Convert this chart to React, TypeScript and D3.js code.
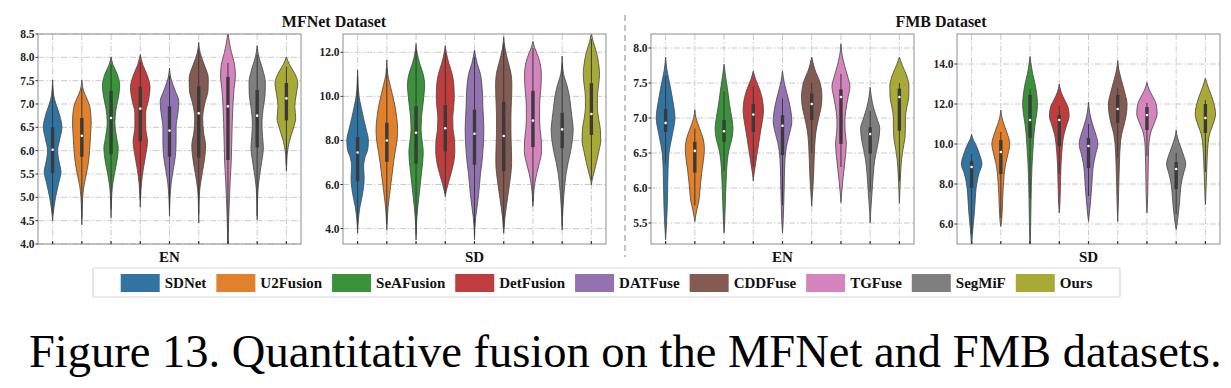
import React from "react";
import * as d3 from "d3";

type Knot = [number, number];

const methods: string[] = ["SDNet", "U2Fusion", "SeAFusion", "DetFusion", "DATFuse", "CDDFuse", "TGFuse", "SegMiF", "Ours"];
const palette: string[] = ["#3274a1", "#e1812c", "#3a923a", "#c03d3e", "#9372b2", "#845b53", "#d684bd", "#7f7f7f", "#a9aa35"];

const datasetTitles: string[] = ["MFNet Dataset", "FMB Dataset"];
const metricLabels: string[] = ["EN", "SD", "EN", "SD"];
const caption = "Figure 13. Quantitative fusion on the MFNet and FMB datasets.";

const yDomains: [number, number][] = [[4.0, 8.5], [3.3, 12.83], [5.2, 8.2], [5.0, 15.5]];
const yTicks: number[][] = [
  [4.0, 4.5, 5.0, 5.5, 6.0, 6.5, 7.0, 7.5, 8.0, 8.5],
  [4.0, 6.0, 8.0, 10.0, 12.0],
  [5.5, 6.0, 6.5, 7.0, 7.5, 8.0],
  [6.0, 8.0, 10.0, 12.0, 14.0],
];

// density profiles: [value, relative half width]
const enMfnetDensity: Knot[][] = [
  [[7.52, 0], [7.2, 0.08], [7.0, 0.28], [6.75, 0.6], [6.5, 0.78], [6.25, 0.6], [6.0, 0.42], [5.75, 0.55], [5.55, 0.7], [5.3, 0.5], [5.0, 0.25], [4.8, 0.12], [4.5, 0]],
  [[7.52, 0], [7.3, 0.12], [7.1, 0.45], [6.9, 0.7], [6.6, 0.78], [6.3, 0.72], [6.0, 0.65], [5.75, 0.55], [5.5, 0.38], [5.25, 0.18], [5.0, 0.07], [4.7, 0.03], [4.41, 0]],
  [[8.01, 0], [7.85, 0.15], [7.65, 0.5], [7.4, 0.72], [7.15, 0.62], [6.9, 0.42], [6.6, 0.32], [6.3, 0.45], [6.05, 0.6], [5.8, 0.5], [5.5, 0.28], [5.2, 0.1], [4.9, 0.03], [4.56, 0]],
  [[8.06, 0], [7.85, 0.2], [7.6, 0.6], [7.35, 0.82], [7.1, 0.7], [6.8, 0.45], [6.5, 0.45], [6.2, 0.6], [5.9, 0.45], [5.6, 0.25], [5.3, 0.1], [5.0, 0.03], [4.79, 0]],
  [[7.77, 0], [7.55, 0.12], [7.3, 0.45], [7.05, 0.78], [6.8, 0.7], [6.5, 0.55], [6.2, 0.55], [5.9, 0.5], [5.6, 0.32], [5.3, 0.14], [5.0, 0.05], [4.59, 0]],
  [[8.32, 0], [8.1, 0.12], [7.85, 0.45], [7.55, 0.8], [7.3, 0.78], [7.0, 0.5], [6.7, 0.33], [6.4, 0.4], [6.1, 0.58], [5.85, 0.5], [5.5, 0.28], [5.2, 0.1], [4.9, 0.03], [4.45, 0]],
  [[8.55, 0], [8.35, 0.1], [8.1, 0.3], [7.85, 0.55], [7.6, 0.62], [7.3, 0.5], [7.0, 0.42], [6.6, 0.36], [6.2, 0.32], [5.8, 0.28], [5.4, 0.2], [5.0, 0.13], [4.6, 0.07], [4.2, 0.03], [3.9, 0]],
  [[8.25, 0], [8.0, 0.15], [7.75, 0.45], [7.45, 0.68], [7.2, 0.66], [6.9, 0.5], [6.6, 0.4], [6.3, 0.45], [6.05, 0.52], [5.8, 0.4], [5.5, 0.22], [5.2, 0.08], [4.9, 0.03], [4.52, 0]],
  [[8.01, 0], [7.85, 0.25], [7.65, 0.7], [7.45, 0.95], [7.2, 0.82], [6.95, 0.7], [6.7, 0.78], [6.45, 0.55], [6.2, 0.25], [6.0, 0.1], [5.8, 0.04], [5.56, 0]],
];

const sdMfnetDensity: Knot[][] = [
  [[11.2, 0], [10.6, 0.04], [10.0, 0.12], [9.5, 0.3], [9.0, 0.5], [8.5, 0.72], [8.0, 0.9], [7.6, 0.85], [7.2, 0.6], [6.8, 0.5], [6.3, 0.55], [5.9, 0.5], [5.4, 0.35], [5.0, 0.2], [4.5, 0.08], [4.1, 0.02], [3.79, 0]],
  [[11.65, 0], [11.0, 0.08], [10.5, 0.28], [10.0, 0.5], [9.5, 0.7], [9.0, 0.83], [8.5, 0.9], [8.0, 0.85], [7.5, 0.7], [7.0, 0.56], [6.5, 0.45], [6.0, 0.33], [5.5, 0.22], [5.0, 0.11], [4.5, 0.05], [3.94, 0]],
  [[12.4, 0], [12.0, 0.08], [11.5, 0.3], [11.0, 0.6], [10.5, 0.72], [10.0, 0.65], [9.5, 0.55], [9.0, 0.45], [8.5, 0.42], [8.0, 0.5], [7.5, 0.6], [7.0, 0.55], [6.5, 0.45], [6.0, 0.35], [5.5, 0.25], [5.0, 0.15], [4.5, 0.07], [4.0, 0.02], [3.48, 0]],
  [[12.3, 0], [12.0, 0.08], [11.5, 0.3], [11.0, 0.58], [10.5, 0.72], [10.0, 0.75], [9.5, 0.7], [9.0, 0.62], [8.5, 0.65], [8.0, 0.78], [7.5, 0.8], [7.0, 0.7], [6.5, 0.48], [6.0, 0.22], [5.7, 0.08], [5.45, 0]],
  [[12.1, 0], [11.5, 0.22], [11.0, 0.5], [10.5, 0.62], [10.0, 0.68], [9.5, 0.7], [9.0, 0.75], [8.5, 0.78], [8.0, 0.76], [7.5, 0.7], [7.0, 0.62], [6.5, 0.5], [6.0, 0.42], [5.5, 0.33], [5.0, 0.22], [4.5, 0.1], [4.0, 0.03], [3.48, 0]],
  [[12.7, 0], [12.2, 0.1], [11.5, 0.4], [11.0, 0.62], [10.5, 0.68], [10.0, 0.66], [9.5, 0.62], [9.0, 0.6], [8.5, 0.6], [8.0, 0.62], [7.5, 0.65], [7.0, 0.66], [6.5, 0.6], [6.0, 0.48], [5.5, 0.35], [5.0, 0.22], [4.5, 0.1], [4.0, 0.03], [3.79, 0]],
  [[12.5, 0], [12.2, 0.15], [12.0, 0.3], [11.5, 0.6], [11.0, 0.7], [10.5, 0.68], [10.0, 0.6], [9.5, 0.55], [9.0, 0.55], [8.5, 0.6], [8.0, 0.7], [7.5, 0.72], [7.0, 0.55], [6.5, 0.32], [6.0, 0.14], [5.5, 0.05], [5.0, 0]],
  [[11.83, 0], [11.3, 0.05], [11.0, 0.12], [10.5, 0.4], [10.0, 0.6], [9.5, 0.72], [9.0, 0.83], [8.5, 0.92], [8.0, 0.85], [7.5, 0.7], [7.0, 0.5], [6.5, 0.33], [6.0, 0.22], [5.5, 0.14], [5.0, 0.08], [4.5, 0.03], [3.94, 0]],
  [[12.86, 0], [12.5, 0.14], [12.0, 0.42], [11.5, 0.6], [11.0, 0.68], [10.5, 0.6], [10.0, 0.5], [9.5, 0.5], [9.0, 0.6], [8.5, 0.75], [8.0, 0.78], [7.5, 0.62], [7.0, 0.42], [6.5, 0.2], [6.2, 0.06], [5.98, 0]],
];

const enFmbDensity: Knot[][] = [
  [[7.87, 0], [7.7, 0.1], [7.5, 0.33], [7.25, 0.6], [7.0, 0.78], [6.75, 0.55], [6.5, 0.28], [6.25, 0.2], [6.0, 0.17], [5.75, 0.14], [5.5, 0.08], [5.26, 0]],
  [[7.12, 0], [7.0, 0.1], [6.85, 0.4], [6.7, 0.7], [6.55, 0.8], [6.4, 0.72], [6.25, 0.6], [6.1, 0.5], [5.95, 0.42], [5.8, 0.32], [5.7, 0.18], [5.6, 0.07], [5.52, 0]],
  [[7.77, 0], [7.6, 0.12], [7.4, 0.3], [7.2, 0.45], [7.0, 0.65], [6.85, 0.75], [6.7, 0.65], [6.55, 0.42], [6.4, 0.28], [6.2, 0.2], [6.0, 0.15], [5.75, 0.1], [5.5, 0.05], [5.36, 0]],
  [[7.67, 0], [7.55, 0.2], [7.4, 0.55], [7.25, 0.78], [7.1, 0.85], [6.95, 0.75], [6.8, 0.6], [6.6, 0.42], [6.45, 0.28], [6.3, 0.15], [6.2, 0.06], [6.1, 0]],
  [[7.67, 0], [7.5, 0.15], [7.3, 0.45], [7.1, 0.7], [6.95, 0.78], [6.8, 0.62], [6.65, 0.4], [6.5, 0.25], [6.3, 0.18], [6.0, 0.14], [5.75, 0.1], [5.5, 0.05], [5.36, 0]],
  [[7.87, 0], [7.7, 0.25], [7.5, 0.7], [7.3, 0.85], [7.15, 0.78], [7.0, 0.58], [6.8, 0.35], [6.6, 0.25], [6.4, 0.2], [6.2, 0.16], [6.0, 0.1], [5.85, 0.04], [5.74, 0]],
  [[8.06, 0], [7.9, 0.1], [7.75, 0.3], [7.6, 0.55], [7.45, 0.75], [7.3, 0.6], [7.1, 0.4], [6.95, 0.33], [6.8, 0.35], [6.65, 0.45], [6.5, 0.4], [6.3, 0.28], [6.15, 0.18], [6.0, 0.1], [5.9, 0.04], [5.79, 0]],
  [[7.44, 0], [7.3, 0.1], [7.15, 0.28], [7.0, 0.55], [6.85, 0.8], [6.7, 0.72], [6.55, 0.55], [6.4, 0.38], [6.2, 0.26], [6.0, 0.18], [5.8, 0.1], [5.65, 0.04], [5.5, 0]],
  [[7.87, 0], [7.75, 0.25], [7.6, 0.62], [7.45, 0.8], [7.3, 0.78], [7.15, 0.62], [7.0, 0.5], [6.85, 0.5], [6.7, 0.45], [6.55, 0.3], [6.4, 0.18], [6.2, 0.1], [6.0, 0.05], [5.78, 0]],
];

const sdFmbDensity: Knot[][] = [
  [[10.49, 0], [10.2, 0.15], [10.0, 0.33], [9.5, 0.65], [9.0, 0.86], [8.5, 0.6], [8.0, 0.42], [7.5, 0.33], [7.0, 0.28], [6.5, 0.22], [6.0, 0.14], [5.5, 0.07], [5.0, 0.02], [4.8, 0]],
  [[11.7, 0], [11.3, 0.1], [11.0, 0.25], [10.5, 0.55], [10.0, 0.75], [9.5, 0.6], [9.0, 0.4], [8.5, 0.28], [8.0, 0.22], [7.5, 0.17], [7.0, 0.14], [6.5, 0.1], [6.0, 0.04], [5.88, 0]],
  [[14.38, 0], [14.0, 0.08], [13.5, 0.22], [13.0, 0.42], [12.5, 0.55], [12.0, 0.62], [11.5, 0.55], [11.0, 0.42], [10.5, 0.33], [10.0, 0.27], [9.0, 0.17], [8.0, 0.11], [7.0, 0.08], [6.0, 0.05], [5.0, 0.02], [4.8, 0]],
  [[13.0, 0], [12.6, 0.15], [12.2, 0.45], [11.8, 0.75], [11.4, 0.82], [11.0, 0.65], [10.5, 0.4], [10.0, 0.27], [9.5, 0.2], [9.0, 0.15], [8.0, 0.1], [7.0, 0.05], [6.55, 0]],
  [[12.1, 0], [11.5, 0.12], [11.0, 0.33], [10.5, 0.6], [10.0, 0.78], [9.5, 0.6], [9.0, 0.42], [8.5, 0.33], [8.0, 0.28], [7.5, 0.22], [7.0, 0.15], [6.5, 0.07], [6.13, 0]],
  [[14.17, 0], [13.7, 0.1], [13.0, 0.4], [12.5, 0.62], [12.0, 0.78], [11.5, 0.72], [11.0, 0.55], [10.5, 0.33], [10.0, 0.22], [9.0, 0.14], [8.0, 0.09], [7.0, 0.05], [6.13, 0]],
  [[13.08, 0], [12.7, 0.2], [12.3, 0.55], [11.9, 0.8], [11.5, 0.85], [11.1, 0.65], [10.7, 0.38], [10.3, 0.22], [10.0, 0.16], [9.5, 0.13], [9.0, 0.11], [8.0, 0.08], [7.0, 0.04], [6.55, 0]],
  [[10.68, 0], [10.3, 0.12], [10.0, 0.28], [9.5, 0.58], [9.0, 0.8], [8.5, 0.6], [8.0, 0.42], [7.5, 0.33], [7.0, 0.27], [6.5, 0.18], [6.0, 0.08], [5.72, 0]],
  [[13.3, 0], [12.9, 0.2], [12.5, 0.45], [12.0, 0.72], [11.5, 0.85], [11.0, 0.65], [10.5, 0.35], [10.0, 0.22], [9.0, 0.13], [8.0, 0.07], [7.2, 0.02], [6.97, 0]],
];

// inner box: [whisker low, q1, median, q3, whisker high]
const enMfnetBox: number[][] = [
  [4.65, 5.52, 6.02, 6.5, 7.4], [4.55, 5.87, 6.32, 6.7, 7.35], [4.75, 5.92, 6.7, 7.28, 7.85],
  [4.95, 6.2, 6.9, 7.37, 7.9], [4.75, 5.87, 6.43, 6.95, 7.6], [4.65, 5.85, 6.8, 7.38, 8.15],
  [4.0, 5.8, 6.95, 7.58, 7.88], [4.6, 6.07, 6.75, 7.3, 8.05], [5.7, 6.65, 7.12, 7.45, 7.8],
];
const sdMfnetBox: number[][] = [
  [4.0, 6.15, 7.45, 8.15, 10.9], [4.2, 7.03, 8.0, 8.8, 11.3], [3.7, 6.95, 8.35, 9.55, 12.1],
  [5.6, 7.5, 8.55, 9.6, 12.0], [3.7, 6.9, 8.3, 9.4, 11.8], [4.0, 6.6, 8.2, 9.75, 12.4],
  [5.2, 7.7, 8.9, 10.25, 12.2], [4.1, 7.65, 8.5, 9.25, 11.5], [6.2, 8.25, 9.2, 10.6, 12.6],
];
const enFmbBox: number[][] = [
  [6.35, 6.8, 6.93, 7.13, 7.6], [5.75, 6.22, 6.53, 6.66, 6.85], [6.24, 6.66, 6.81, 6.97, 7.38],
  [6.3, 6.8, 7.05, 7.2, 7.45], [5.75, 6.47, 6.89, 7.04, 7.28], [6.5, 6.97, 7.2, 7.35, 7.5],
  [6.3, 6.63, 7.3, 7.41, 7.63], [5.95, 6.49, 6.77, 6.87, 7.1], [6.1, 6.82, 7.3, 7.42, 7.5],
];
const sdFmbBox: number[][] = [
  [5.5, 7.8, 8.85, 9.15, 9.5], [6.3, 8.5, 9.6, 10.2, 10.6], [7.3, 10.3, 11.2, 12.45, 12.75],
  [8.5, 9.9, 11.2, 11.45, 11.9], [7.4, 8.8, 9.9, 10.3, 11.0], [9.3, 11.05, 11.75, 12.45, 12.8],
  [9.4, 10.7, 11.45, 11.85, 12.05], [6.5, 7.75, 8.75, 9.1, 9.55], [8.6, 10.55, 11.3, 12.0, 12.2],
];

const densities = [enMfnetDensity, sdMfnetDensity, enFmbDensity, sdFmbDensity];
const boxes = [enMfnetBox, sdMfnetBox, enFmbBox, sdFmbBox];

const W = 1231;
const H = 388;
const plotTop = 34;
const plotBottom = 244;
const panelX: [number, number][] = [[38, 301], [343, 606], [651, 914], [957, 1220]];
const titleX = [334, 941];
const serif = "'Liberation Serif', 'Times New Roman', serif";
const gridColor = "#c4c4c4";
const boxColor = "#3a3a3a";

function measure(text: string, font: string): number {
  const canvas = document.createElement("canvas");
  const ctx = canvas.getContext("2d");
  if (!ctx) return text.length * 8;
  ctx.font = font;
  return ctx.measureText(text).width;
}

function Panel({idx}: {idx: number}) {
  const [left, right] = panelX[idx];
  const y = d3.scaleLinear().domain(yDomains[idx]).range([plotBottom, plotTop]);
  const x = d3.scaleBand<string>().domain(methods).range([left, right]).padding(0);
  const bw = x.bandwidth();
  const ws = d3.scaleLinear().domain([0, 1]).range([0, bw * 0.41]);
  const clipId = `clip-${idx}`;

  return (
    <g>
      <defs>
        <clipPath id={clipId}>
          <rect x={left} y={plotTop} width={right - left} height={plotBottom - plotTop} />
        </clipPath>
      </defs>
      <rect x={left} y={plotTop} width={right - left} height={plotBottom - plotTop} fill="#fff" />
      {yTicks[idx].map((t) => (
        <line key={`h${t}`} x1={left} x2={right} y1={y(t)} y2={y(t)} stroke={gridColor} strokeWidth={0.9} strokeDasharray="6,2,1.5,2" />
      ))}
      {methods.map((m) => {
        const cx = (x(m) as number) + bw / 2;
        return <line key={`v${m}`} x1={cx} x2={cx} y1={plotTop} y2={plotBottom} stroke={gridColor} strokeWidth={0.9} strokeDasharray="6,2,1.5,2" />;
      })}
      <g clipPath={`url(#${clipId})`}>
        {methods.map((m, i) => {
          const cx = (x(m) as number) + bw / 2;
          const area = d3.area<Knot>()
            .y((d) => y(d[0]))
            .x0((d) => cx - ws(d[1]))
            .x1((d) => cx + ws(d[1]))
            .curve(d3.curveMonotoneY);
          const [wlo, q1, med, q3, whi] = boxes[idx][i];
          return (
            <g key={m}>
              <path d={area(densities[idx][i]) || ""} fill={palette[i]} stroke="#454545" strokeWidth={0.8} />
              <line x1={cx} x2={cx} y1={y(whi)} y2={y(wlo)} stroke={boxColor} strokeWidth={1} />
              <rect x={cx - 1.7} width={3.4} y={y(q3)} height={y(q1) - y(q3)} fill={boxColor} />
              <circle cx={cx} cy={y(med)} r={1.3} fill="#fff" />
            </g>
          );
        })}
      </g>
      <rect x={left} y={plotTop} width={right - left} height={plotBottom - plotTop} fill="none" stroke="#8e8e8e" strokeWidth={1} />
      {yTicks[idx].map((t) => (
        <g key={`t${t}`}>
          <line x1={left - 2.5} x2={left} y1={y(t)} y2={y(t)} stroke="#333" strokeWidth={1} />
          <text x={left - 3.5} y={y(t)} dy="0.35em" textAnchor="end" fontFamily={serif} fontWeight="bold" fontSize={11.5} fill="#222">
            {t.toFixed(1)}
          </text>
        </g>
      ))}
      {methods.map((m) => {
        const cx = (x(m) as number) + bw / 2;
        return <line key={`xt${m}`} x1={cx} x2={cx} y1={plotBottom} y2={plotBottom - 3} stroke="#333" strokeWidth={1.2} />;
      })}
      <text x={(left + right) / 2} y={262} textAnchor="middle" fontFamily={serif} fontWeight="bold" fontSize={15} fill="#111">
        {metricLabels[idx]}
      </text>
    </g>
  );
}

function Legend() {
  const font = `bold 15px ${serif}`;
  const patchW = 39;
  const patchH = 18;
  const textPad = 5;
  const colGap = 10;
  const widths = methods.map((m) => measure(m, font));
  const total = widths.reduce((s, w) => s + patchW + textPad + w + colGap, 0) - colGap;
  const boxL = 93;
  const boxR = 1120;
  let cur = (boxL + boxR) / 2 - total / 2;
  const items = methods.map((m, i) => {
    const x0 = cur;
    cur += patchW + textPad + widths[i] + colGap;
    return {m, x0, color: palette[i]};
  });
  return (
    <g>
      <rect x={boxL} y={268} width={boxR - boxL} height={29} fill="#fff" stroke="#d8d8d8" strokeWidth={1.2} rx={1} />
      {items.map((it) => (
        <g key={it.m}>
          <rect x={it.x0} y={274} width={patchW} height={patchH} fill={it.color} />
          <text x={it.x0 + patchW + textPad} y={288} fontFamily={serif} fontWeight="bold" fontSize={15} fill="#111">
            {it.m}
          </text>
        </g>
      ))}
    </g>
  );
}

function Caption() {
  const size = 47;
  const natural = measure(caption, `${size}px ${serif}`);
  const sx = 1193 / natural;
  return (
    <text transform={`translate(29,367) scale(${sx},1)`} fontFamily={serif} fontSize={size} fill="#000">
      {caption}
    </text>
  );
}

export default function App(): React.ReactElement {
  return (
    <svg width={W} height={H} viewBox={`0 0 ${W} ${H}`} style={{position: "absolute", left: 0, top: 0, display: "block", background: "#fff"}}>
      <rect x={0} y={0} width={W} height={H} fill="#fff" />
      {[0, 1, 2, 3].map((i) => <Panel key={i} idx={i} />)}
      {datasetTitles.map((t, i) => (
        <text key={t} x={titleX[i]} y={27} textAnchor="middle" fontFamily={serif} fontWeight="bold" fontSize={16} fill="#111">
          {t}
        </text>
      ))}
      <line x1={625} x2={625} y1={15} y2={257} stroke="#b0b0b0" strokeWidth={1.5} strokeDasharray="6,4" />
      <Legend />
      <Caption />
    </svg>
  );
}
